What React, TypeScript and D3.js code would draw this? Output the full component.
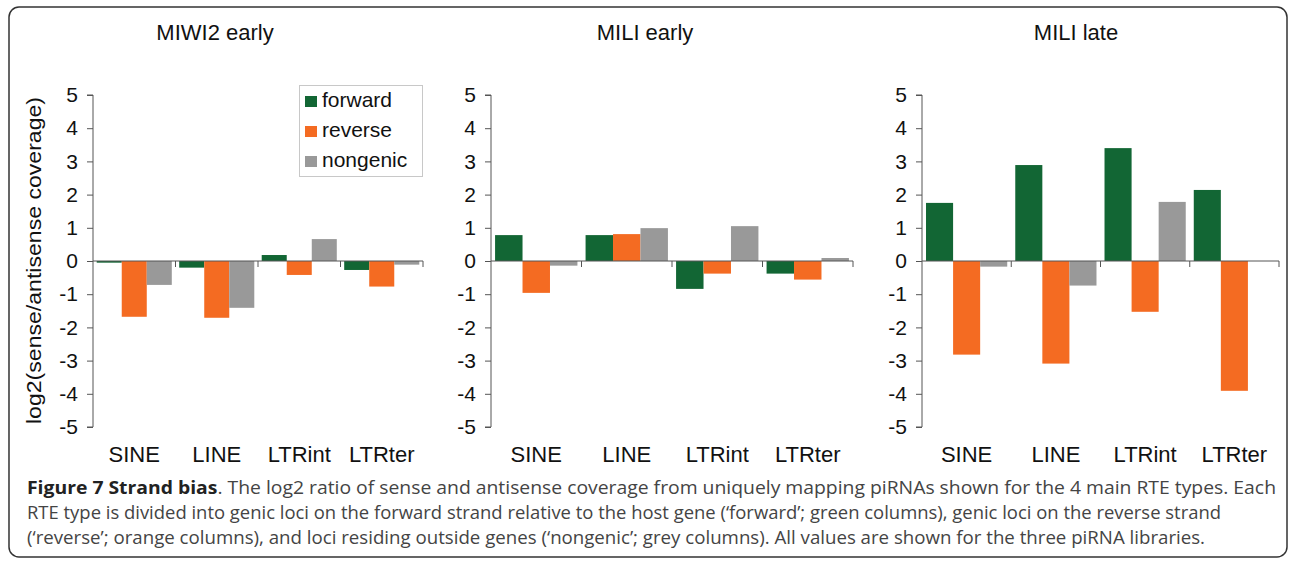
import React, { useRef, useEffect } from 'react';
import * as d3 from 'd3';

// RTE types on the x axis, three strand groups per type
const categories = ['SINE', 'LINE', 'LTRint', 'LTRter'];
const series = ['forward', 'reverse', 'nongenic'];
const yTicks = [5, 4, 3, 2, 1, 0, -1, -2, -3, -4, -5];

// log2(sense/antisense) per library, ordered as categories
const miwi2EarlyForward = [-0.05, -0.2, 0.18, -0.27];
const miwi2EarlyReverse = [-1.68, -1.71, -0.42, -0.77];
const miwi2EarlyNongenic = [-0.72, -1.41, 0.66, -0.11];

const miliEarlyForward = [0.78, 0.78, -0.84, -0.38];
const miliEarlyReverse = [-0.96, 0.81, -0.38, -0.56];
const miliEarlyNongenic = [-0.14, 0.99, 1.05, 0.09];

const miliLateForward = [1.75, 2.89, 3.4, 2.14];
const miliLateReverse = [-2.82, -3.09, -1.53, -3.91];
const miliLateNongenic = [-0.17, -0.74, 1.78, 0];

const captionLines = [
  ['Figure 7 Strand bias', '. The log2 ratio of sense and antisense coverage from uniquely mapping piRNAs shown for the 4 main RTE types. Each'],
  ['', 'RTE type is divided into genic loci on the forward strand relative to the host gene (\u2018forward\u2019; green columns), genic loci on the reverse strand'],
  ['', '(\u2018reverse\u2019; orange columns), and loci residing outside genes (\u2018nongenic\u2019; grey columns). All values are shown for the three piRNA libraries.'],
];

const panels = [
  { title: 'MIWI2 early', titleX: 215, x0: 93, x1: 423, values: [miwi2EarlyForward, miwi2EarlyReverse, miwi2EarlyNongenic] },
  { title: 'MILI early', titleX: 645, x0: 491, x1: 853, values: [miliEarlyForward, miliEarlyReverse, miliEarlyNongenic] },
  { title: 'MILI late', titleX: 1076, x0: 922, x1: 1279, values: [miliLateForward, miliLateReverse, miliLateNongenic] },
];

const App = () => {
  const svgRef = useRef(null);

  useEffect(() => {
    const svg = d3.select(svgRef.current);
    svg.selectAll('*').remove();

    const font = 'Liberation Sans, Arial, Helvetica, sans-serif';
    const color = d3.scaleOrdinal().domain(series).range(['#126634', '#f46b22', '#999999']);
    const y = d3.scaleLinear().domain([-5, 5]).range([427, 95]);

    // outer frame
    svg.append('rect')
      .attr('x', 9).attr('y', 7).attr('width', 1278).attr('height', 550)
      .attr('rx', 10).attr('fill', 'none').attr('stroke', '#333').attr('stroke-width', 1.5);

    panels.forEach((p) => {
      const g = svg.append('g');
      const x = d3.scaleBand().domain(categories).range([p.x0, p.x1])
        .paddingInner(0.09).paddingOuter(0.045);
      const xs = d3.scaleBand().domain(series).range([0, x.bandwidth()]);

      // title
      g.append('text')
        .attr('x', p.titleX).attr('y', 40)
        .attr('text-anchor', 'middle').attr('font-family', font).attr('font-size', 22)
        .attr('fill', '#111').text(p.title);

      // bars
      series.forEach((s, si) => {
        g.selectAll(null).data(p.values[si]).enter().append('rect')
          .attr('x', (d, i) => x(categories[i]) + xs(s))
          .attr('width', xs.bandwidth())
          .attr('y', (d) => y(Math.max(0, d)))
          .attr('height', (d) => Math.abs(y(d) - y(0)))
          .attr('fill', color(s));
      });

      // y axis
      const yAxis = g.append('g')
        .attr('transform', `translate(${p.x0},0)`)
        .call(d3.axisLeft(y).tickValues(yTicks).tickSize(6).tickPadding(9).tickFormat((d) => String(d)));
      yAxis.select('.domain').attr('stroke', '#555');
      yAxis.selectAll('.tick line').attr('stroke', '#555');
      yAxis.selectAll('text').attr('font-family', font).attr('font-size', 21).attr('fill', '#111');
      yAxis.select('.domain').attr('d', `M-6,${y(5)}H0V${y(-5)}H-6`);

      // x axis at zero with category separator ticks
      const boundaries = categories.map((c, i) => p.x0 + (i + 1) * x.step());
      g.append('line')
        .attr('x1', p.x0).attr('x2', p.x1).attr('y1', y(0)).attr('y2', y(0))
        .attr('stroke', '#555').attr('stroke-width', 1);
      g.selectAll(null).data(boundaries).enter().append('line')
        .attr('x1', (d) => d).attr('x2', (d) => d)
        .attr('y1', y(0)).attr('y2', y(0) + 6)
        .attr('stroke', '#555');

      // category labels
      g.selectAll(null).data(categories).enter().append('text')
        .attr('x', (d) => x(d) + x.bandwidth() / 2)
        .attr('y', 462)
        .attr('text-anchor', 'middle').attr('font-family', font).attr('font-size', 22)
        .attr('fill', '#111').text((d) => d);
    });

    // y axis label
    svg.append('text')
      .attr('transform', 'translate(41,260.5) rotate(-90)')
      .attr('text-anchor', 'middle').attr('font-family', font).attr('font-size', 21)
      .attr('textLength', 327).attr('lengthAdjust', 'spacingAndGlyphs')
      .attr('fill', '#111').text('log2(sense/antisense coverage)');

    // legend
    const lg = svg.append('g');
    lg.append('rect')
      .attr('x', 299.5).attr('y', 85.5).attr('width', 123).attr('height', 91)
      .attr('fill', 'white').attr('stroke', '#c8c8c8');
    series.forEach((s, i) => {
      lg.append('rect')
        .attr('x', 305).attr('y', 96 + i * 30).attr('width', 12).attr('height', 11)
        .attr('fill', color(s));
      lg.append('text')
        .attr('x', 322).attr('y', 107 + i * 30)
        .attr('font-family', font).attr('font-size', 21).attr('fill', '#111').text(s);
    });

    // caption
    const ends = [1276, 1221, 1205];
    const baselines = [494, 519, 544];
    captionLines.forEach((line, i) => {
      const t = svg.append('text')
        .attr('x', 27).attr('y', baselines[i])
        .attr('font-family', 'Open Sans, DejaVu Sans Condensed, sans-serif')
        .attr('font-size', 18.5)
        .attr('textLength', ends[i] - 27).attr('lengthAdjust', 'spacingAndGlyphs');
      if (line[0]) t.append('tspan').attr('font-weight', 'bold').attr('fill', '#222').text(line[0]);
      t.append('tspan').attr('fill', '#444').text(line[1]);
    });
  }, []);

  return (
    <svg ref={svgRef} width={1290} height={562}
      style={{ position: 'absolute', left: 0, top: 0, background: 'white' }} />
  );
};

export default App;
